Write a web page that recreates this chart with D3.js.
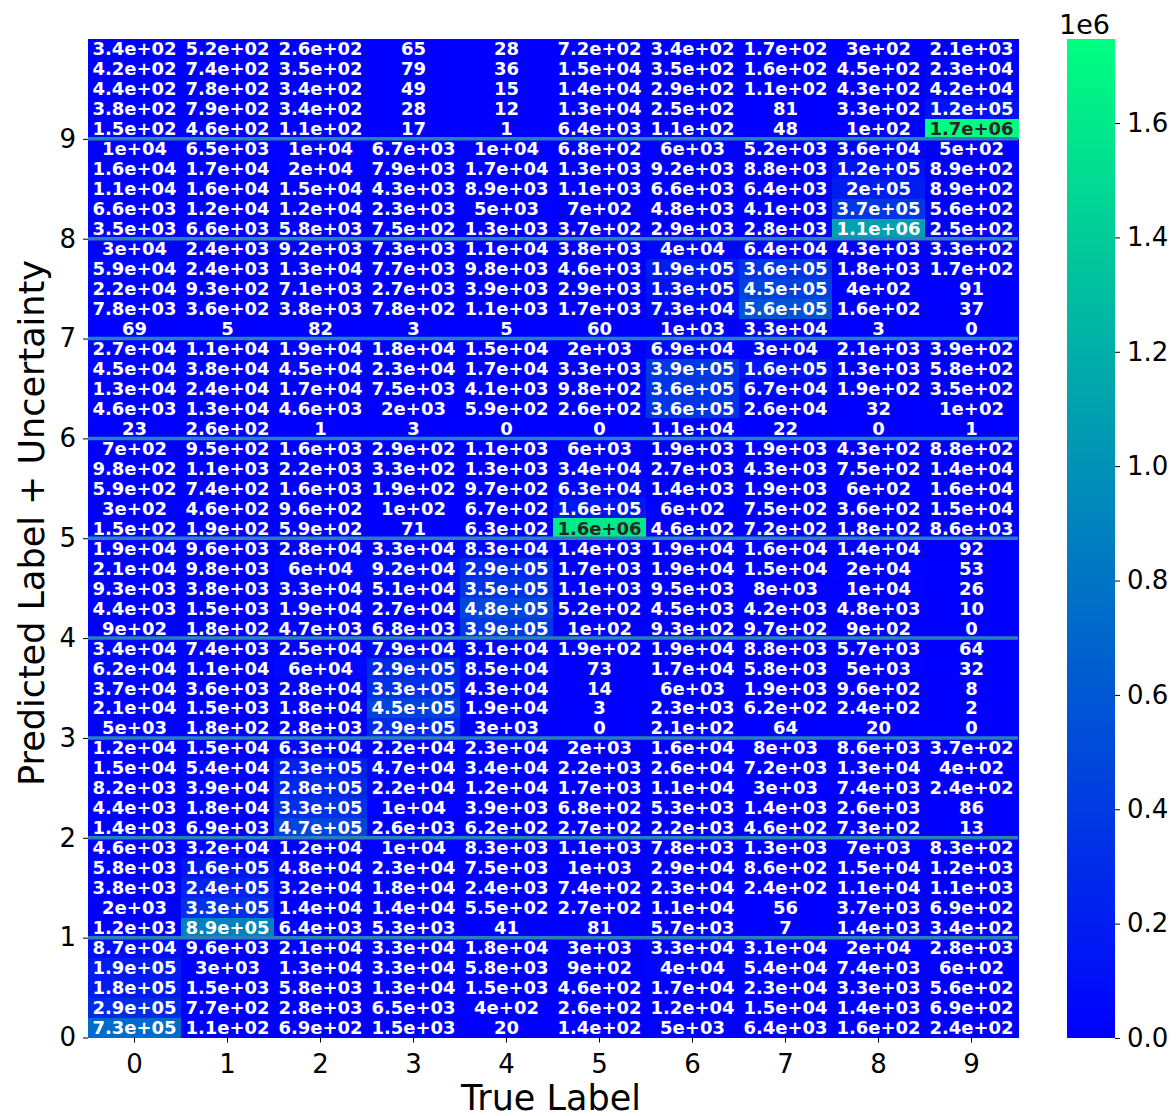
<!DOCTYPE html>
<html>
<head>
<meta charset="utf-8">
<script src="https://cdn.jsdelivr.net/npm/d3@7"></script>
<style>
  body { margin: 0; background: #fff; }
  svg { display: block; }
  text { font-family: "DejaVu Sans", sans-serif; }
</style>
</head>
<body>
<svg id="chart" width="1176" height="1116"></svg>
<script>
// Column categories (true label) and y-axis tick labels (predicted label bands)
const trueLabels = ["0", "1", "2", "3", "4", "5", "6", "7", "8", "9"];
const predictedTicks = [0, 1, 2, 3, 4, 5, 6, 7, 8, 9];
const colorbarTicks = [0, 0.2e6, 0.4e6, 0.6e6, 0.8e6, 1.0e6, 1.2e6, 1.4e6, 1.6e6];

// Counts per band of predicted label, five uncertainty rows each (top row first)
const predicted9 = [
  [340, 520, 260, 65, 28, 720, 340, 170, 300, 2100],
  [420, 740, 350, 79, 36, 15000, 350, 160, 450, 23000],
  [440, 780, 340, 49, 15, 14000, 290, 110, 430, 42000],
  [380, 790, 340, 28, 12, 13000, 250, 81, 330, 120000],
  [150, 460, 110, 17, 1, 6400, 110, 48, 100, 1747000]
];
const predicted8 = [
  [10000, 6500, 10000, 6700, 10000, 680, 6000, 5200, 36000, 500],
  [16000, 17000, 20000, 7900, 17000, 1300, 9200, 8800, 120000, 890],
  [11000, 16000, 15000, 4300, 8900, 1100, 6600, 6400, 200000, 890],
  [6600, 12000, 12000, 2300, 5000, 700, 4800, 4100, 370000, 560],
  [3500, 6600, 5800, 750, 1300, 370, 2900, 2800, 1100000, 250]
];
const predicted7 = [
  [30000, 2400, 9200, 7300, 11000, 3800, 40000, 64000, 4300, 330],
  [59000, 2400, 13000, 7700, 9800, 4600, 190000, 360000, 1800, 170],
  [22000, 930, 7100, 2700, 3900, 2900, 130000, 450000, 400, 91],
  [7800, 360, 3800, 780, 1100, 1700, 73000, 560000, 160, 37],
  [69, 5, 82, 3, 5, 60, 1000, 33000, 3, 0]
];
const predicted6 = [
  [27000, 11000, 19000, 18000, 15000, 2000, 69000, 30000, 2100, 390],
  [45000, 38000, 45000, 23000, 17000, 3300, 390000, 160000, 1300, 580],
  [13000, 24000, 17000, 7500, 4100, 980, 360000, 67000, 190, 350],
  [4600, 13000, 4600, 2000, 590, 260, 360000, 26000, 32, 100],
  [23, 260, 1, 3, 0, 0, 11000, 22, 0, 1]
];
const predicted5 = [
  [700, 950, 1600, 290, 1100, 6000, 1900, 1900, 430, 880],
  [980, 1100, 2200, 330, 1300, 34000, 2700, 4300, 750, 14000],
  [590, 740, 1600, 190, 970, 63000, 1400, 1900, 600, 16000],
  [300, 460, 960, 100, 670, 160000, 600, 750, 360, 15000],
  [150, 190, 590, 71, 630, 1600000, 460, 720, 180, 8600]
];
const predicted4 = [
  [19000, 9600, 28000, 33000, 83000, 1400, 19000, 16000, 14000, 92],
  [21000, 9800, 60000, 92000, 290000, 1700, 19000, 15000, 20000, 53],
  [9300, 3800, 33000, 51000, 350000, 1100, 9500, 8000, 10000, 26],
  [4400, 1500, 19000, 27000, 480000, 520, 4500, 4200, 4800, 10],
  [900, 180, 4700, 6800, 390000, 100, 930, 970, 900, 0]
];
const predicted3 = [
  [34000, 7400, 25000, 79000, 31000, 190, 19000, 8800, 5700, 64],
  [62000, 11000, 60000, 290000, 85000, 73, 17000, 5800, 5000, 32],
  [37000, 3600, 28000, 330000, 43000, 14, 6000, 1900, 960, 8],
  [21000, 1500, 18000, 450000, 19000, 3, 2300, 620, 240, 2],
  [5000, 180, 2800, 290000, 3000, 0, 210, 64, 20, 0]
];
const predicted2 = [
  [12000, 15000, 63000, 22000, 23000, 2000, 16000, 8000, 8600, 370],
  [15000, 54000, 230000, 47000, 34000, 2200, 26000, 7200, 13000, 400],
  [8200, 39000, 280000, 22000, 12000, 1700, 11000, 3000, 7400, 240],
  [4400, 18000, 330000, 10000, 3900, 680, 5300, 1400, 2600, 86],
  [1400, 6900, 470000, 2600, 620, 270, 2200, 460, 730, 13]
];
const predicted1 = [
  [4600, 32000, 12000, 10000, 8300, 1100, 7800, 1300, 7000, 830],
  [5800, 160000, 48000, 23000, 7500, 1000, 29000, 860, 15000, 1200],
  [3800, 240000, 32000, 18000, 2400, 740, 23000, 240, 11000, 1100],
  [2000, 330000, 14000, 14000, 550, 270, 11000, 56, 3700, 690],
  [1200, 890000, 6400, 5300, 41, 81, 5700, 7, 1400, 340]
];
const predicted0 = [
  [87000, 9600, 21000, 33000, 18000, 3000, 33000, 31000, 20000, 2800],
  [190000, 3000, 13000, 33000, 5800, 900, 40000, 54000, 7400, 600],
  [180000, 1500, 5800, 13000, 1500, 460, 17000, 23000, 3300, 560],
  [290000, 770, 2800, 6500, 400, 260, 12000, 15000, 1400, 690],
  [730000, 110, 690, 1500, 20, 140, 5000, 6400, 160, 240]
];

// Bands from the top of the heatmap down to the bottom
const bands = [predicted9, predicted8, predicted7, predicted6, predicted5,
               predicted4, predicted3, predicted2, predicted1, predicted0];
const rows = bands.flat();
const nRows = rows.length;

const cells = [];
rows.forEach((row, r) => row.forEach((v, c) => cells.push({ r, c, v })));

// Python-style ".2g" formatting of the annotations
function fmt2g(v) {
  if (v === 0) return "0";
  const [mant, expStr] = v.toExponential(1).split("e");
  const e = parseInt(expStr, 10);
  if (e < 2 && e >= -4) {
    return String(Number(v.toPrecision(2)));
  }
  const m = mant.replace(/\.0$/, "");
  const sign = e < 0 ? "-" : "+";
  return m + "e" + sign + String(Math.abs(e)).padStart(2, "0");
}

const svg = d3.select("#chart");
const plot = { left: 88, right: 1018, top: 39, bottom: 1037.5 };

const vmax = d3.max(cells, d => d.v);
// "winter" colormap: blue -> spring green
const color = d3.scaleLinear().domain([0, vmax]).range(["#0000ff", "#00ff80"]);

const x = d3.scaleBand().domain(trueLabels).range([plot.left, plot.right]);
const rowY = d3.scaleBand().domain(d3.range(nRows)).range([plot.top, plot.bottom]);
const y = d3.scaleLinear().domain([0, 10]).range([plot.bottom, plot.top]);

function luminance(c) {
  const rgb = d3.rgb(c);
  const lin = ch => {
    const s = ch / 255;
    return s <= 0.03928 ? s / 12.92 : Math.pow((s + 0.055) / 1.055, 2.4);
  };
  return 0.2126 * lin(rgb.r) + 0.7152 * lin(rgb.g) + 0.0722 * lin(rgb.b);
}

// Heatmap cells
svg.append("g")
  .attr("shape-rendering", "crispEdges")
  .selectAll("rect")
  .data(cells)
  .join("rect")
  .attr("x", d => x(trueLabels[d.c]))
  .attr("y", d => rowY(d.r))
  .attr("width", x.bandwidth() + 0.5)
  .attr("height", rowY.bandwidth() + 0.5)
  .attr("fill", d => color(d.v));

// Annotations
svg.append("g")
  .selectAll("text")
  .data(cells)
  .join("text")
  .attr("x", d => x(trueLabels[d.c]) + x.bandwidth() / 2)
  .attr("y", d => rowY(d.r) + rowY.bandwidth() / 2)
  .attr("text-anchor", "middle")
  .attr("dominant-baseline", "central")
  .attr("font-size", 18)
  .attr("font-weight", "bold")
  .attr("fill", d => luminance(color(d.v)) > 0.408 ? "#262626" : "#ffffff")
  .text(d => fmt2g(d.v));

// Band separators between predicted labels
svg.append("g")
  .selectAll("line")
  .data(predictedTicks.slice(1))
  .join("line")
  .attr("x1", plot.left)
  .attr("x2", plot.right)
  .attr("y1", d => y(d))
  .attr("y2", d => y(d))
  .attr("stroke", "#2a7fbd")
  .attr("stroke-width", 3.5);

// Axes
const xAxis = svg.append("g")
  .attr("transform", `translate(0,${plot.bottom})`)
  .call(d3.axisBottom(x).tickSize(5).tickPadding(12));
xAxis.select(".domain").remove();

const yAxis = svg.append("g")
  .attr("transform", `translate(${plot.left},0)`)
  .call(d3.axisLeft(y).tickValues(predictedTicks).tickFormat(d3.format("d")).tickSize(5).tickPadding(7));
yAxis.select(".domain").remove();

[xAxis, yAxis].forEach(g => {
  g.selectAll("text").attr("font-size", 26).attr("fill", "#000")
    .style("font-family", "'DejaVu Sans', sans-serif");
  g.selectAll("line").attr("stroke", "#000").attr("stroke-width", 1);
});

svg.append("text")
  .attr("x", 551)
  .attr("y", 1110)
  .attr("text-anchor", "middle")
  .attr("font-size", 35)
  .attr("fill", "#000")
  .text("True Label");

svg.append("text")
  .attr("transform", "translate(44,523) rotate(-90)")
  .attr("text-anchor", "middle")
  .attr("font-size", 35)
  .attr("fill", "#000")
  .text("Predicted Label + Uncertainty");

// Colorbar
const cb = { x: 1067, w: 48, top: 39, bottom: 1038 };
const grad = svg.append("defs").append("linearGradient")
  .attr("id", "winter-grad")
  .attr("x1", 0).attr("y1", 1).attr("x2", 0).attr("y2", 0);
grad.append("stop").attr("offset", 0).attr("stop-color", color(0));
grad.append("stop").attr("offset", 1).attr("stop-color", color(vmax));

svg.append("rect")
  .attr("x", cb.x)
  .attr("y", cb.top)
  .attr("width", cb.w)
  .attr("height", cb.bottom - cb.top)
  .attr("fill", "url(#winter-grad)");

const cbScale = d3.scaleLinear().domain([0, vmax]).range([cb.bottom, cb.top]);
const cbAxis = svg.append("g")
  .attr("transform", `translate(${cb.x + cb.w},0)`)
  .call(d3.axisRight(cbScale).tickValues(colorbarTicks)
    .tickFormat(d => (d / 1e6).toFixed(1)).tickSize(5).tickPadding(7));
cbAxis.select(".domain").remove();
cbAxis.selectAll("text").attr("font-size", 26).attr("fill", "#000")
  .style("font-family", "'DejaVu Sans', sans-serif");
cbAxis.selectAll("line").attr("stroke", "#000");

svg.append("text")
  .attr("x", 1059)
  .attr("y", 34)
  .attr("font-size", 27)
  .attr("fill", "#000")
  .text("1e6");
</script>
</body>
</html>
